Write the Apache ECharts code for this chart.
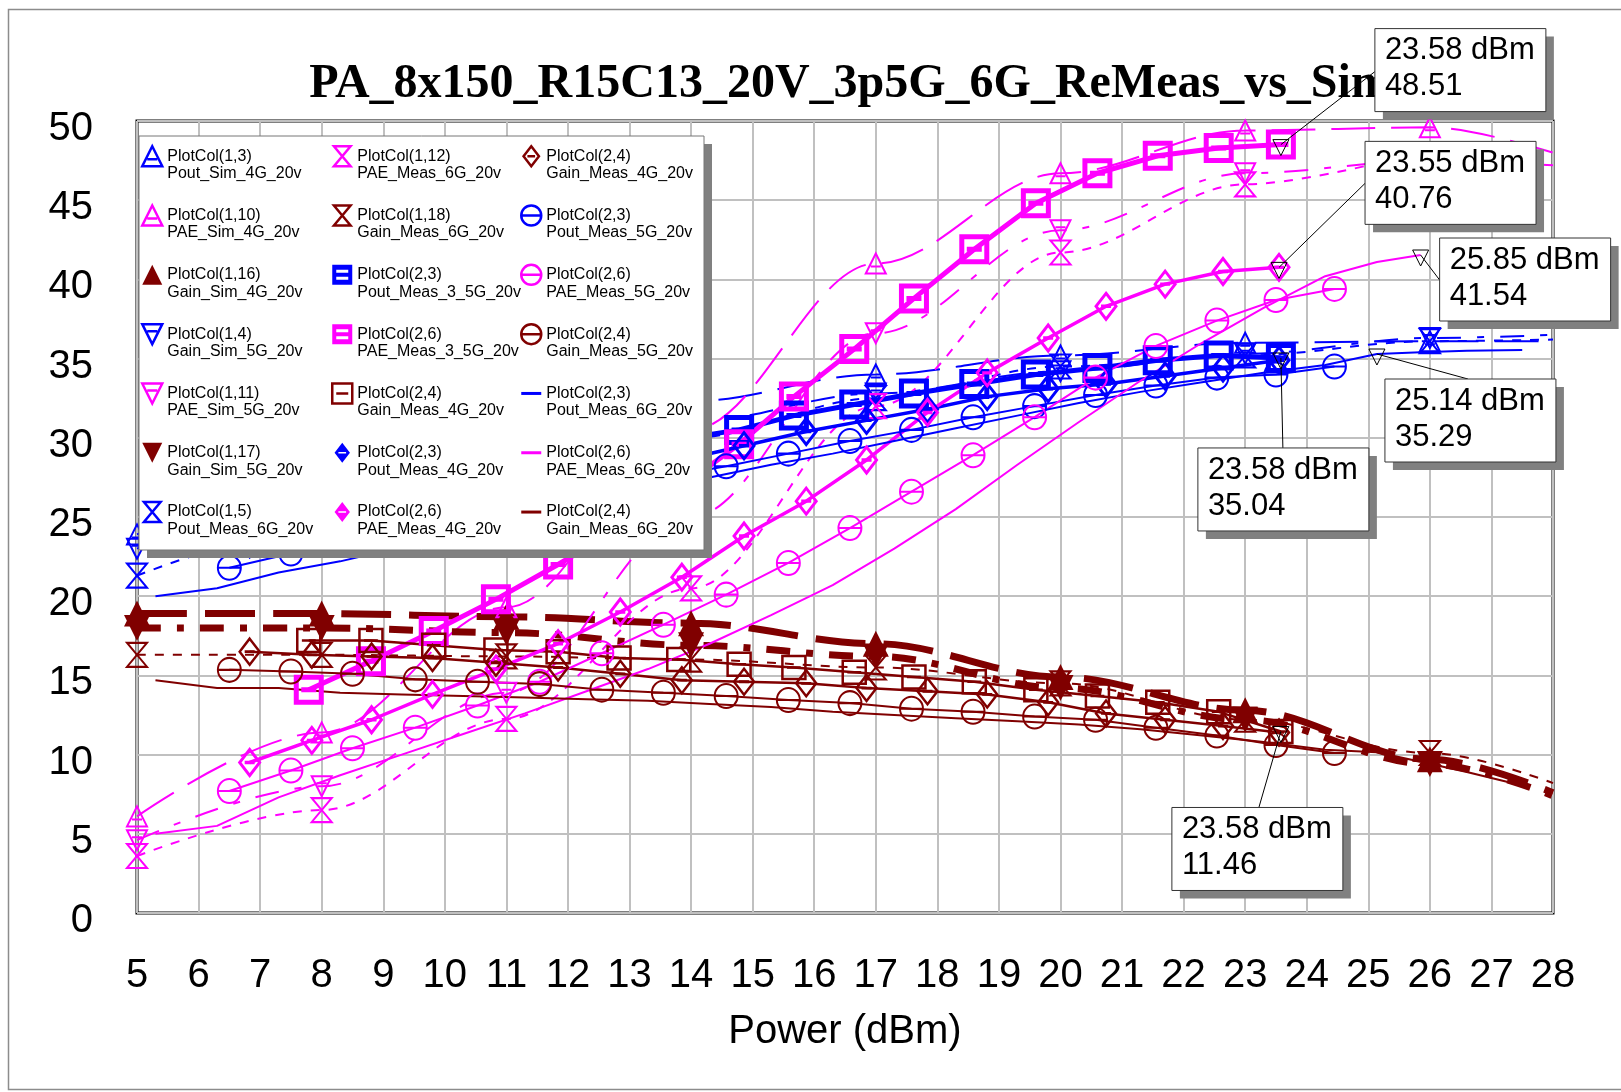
<!DOCTYPE html>
<html>
<head>
<meta charset="utf-8">
<script src="https://cdn.jsdelivr.net/npm/echarts@6/dist/echarts.min.js"></script>
<style>
  html, body { margin: 0; padding: 0; background: #fff; }
  #chart { width: 1621px; height: 1092px; }
</style>
</head>
<body>
<div id="chart"></div>
<script>
// ---------- data ----------
const chartTitle = 'PA_8x150_R15C13_20V_3p5G_6G_ReMeas_vs_Sim';
const xAxisName = 'Power (dBm)';

// simulation sweeps and first 6 GHz measurement (points every 3 dB)
const simX        = [5, 8, 11, 14, 17, 20, 23, 26, 28];
const poutSim4G   = [23.9, 26.9, 29.7, 32.3, 34.0, 35.2, 36.0, 36.1, 36.1];
const paeSim4G    = [6.1, 11.4, 19.3, 30.5, 41.0, 46.7, 49.4, 49.6, 48.0];
const gainSim4G   = [18.9, 18.9, 18.7, 18.3, 17.0, 14.9, 12.8, 9.7, 7.6];
const poutSim5G   = [23.0, 26.0, 28.7, 31.0, 32.8, 34.2, 35.3, 36.3, 36.5];
const paeSim5G    = [4.6, 8.0, 13.9, 25.0, 36.6, 43.1, 46.7, 47.5, 47.2];
const gainSim5G   = [18.0, 18.0, 17.7, 16.9, 16.2, 14.2, 12.2, 9.4, 7.4];
const poutMeas6Hg = [21.3, 24.3, 27.2, 30.0, 32.5, 34.5, 35.2, 36.1, 36.2];
const gainMeas6Hg = [16.3, 16.3, 16.2, 16.0, 15.5, 14.5, 12.2, 10.1, 8.2];
const paeMeas6HgX = [5, 8, 11, 14, 17, 20, 23, 25];
const paeMeas6Hg  = [3.6, 6.5, 12.25, 20.5, 32.0, 41.7, 46.0, 47.2];

// 3.5 GHz re-measurement
const x35    = [7.79, 8.80, 9.82, 10.83, 11.84, 12.83, 13.80, 14.78, 15.67, 16.65, 17.62, 18.60, 19.60, 20.60, 21.58, 22.57, 23.58];
const pae35  = [14.1, 15.9, 17.8, 19.8, 22.0, 24.3, 26.8, 29.6, 32.6, 35.6, 38.8, 41.9, 44.8, 46.7, 47.8, 48.3, 48.51];
const pout35 = [25.0, 26.0, 26.8, 27.5, 28.4, 29.0, 29.9, 30.5, 31.4, 32.1, 32.8, 33.4, 34.0, 34.4, 34.9, 35.2, 35.04];
const gain35 = [17.2, 17.2, 16.9, 16.6, 16.5, 16.1, 16.0, 15.7, 15.5, 15.2, 14.9, 14.6, 14.1, 13.7, 13.3, 12.7, 11.46];

// 4 GHz measurement
const x4    = [6.83, 7.84, 8.81, 9.80, 10.83, 11.84, 12.85, 13.85, 14.86, 15.87, 16.85, 17.84, 18.81, 19.80, 20.74, 21.70, 22.64, 23.55];
const pae4  = [9.5, 10.9, 12.2, 13.8, 15.4, 17.0, 19.0, 21.2, 23.8, 26.0, 28.6, 31.6, 34.1, 36.3, 38.3, 39.7, 40.5, 40.76];
const pout4 = [23.3, 24.1, 25.0, 25.9, 26.6, 27.3, 28.0, 28.6, 29.5, 30.4, 31.1, 31.8, 32.6, 33.1, 33.4, 33.9, 34.4, 34.9];
const gain4 = [16.5, 16.3, 16.2, 16.1, 15.8, 15.5, 15.1, 14.7, 14.6, 14.5, 14.2, 14.0, 13.8, 13.3, 12.6, 12.2, 11.8, 11.4];

// 5 GHz measurement
const x5    = [6.50, 7.50, 8.50, 9.52, 10.53, 11.54, 12.55, 13.55, 14.57, 15.58, 16.58, 17.58, 18.58, 19.58, 20.57, 21.55, 22.54, 23.50, 24.45];
const pae5  = [7.7, 9.0, 10.4, 11.7, 13.1, 14.6, 16.4, 18.2, 20.1, 22.1, 24.3, 26.6, 28.9, 31.3, 33.8, 35.8, 37.4, 38.7, 39.4];
const pout5 = [21.8, 22.7, 23.6, 24.3, 25.1, 26.0, 26.7, 27.5, 28.2, 29.0, 29.8, 30.5, 31.3, 32.0, 32.7, 33.3, 33.8, 34.0, 34.5];
const gain5 = [15.35, 15.25, 15.1, 14.75, 14.6, 14.45, 14.1, 13.9, 13.7, 13.45, 13.25, 12.9, 12.7, 12.4, 12.2, 11.7, 11.2, 10.6, 10.1];

// 6 GHz measurement (second sweep, no markers)
const x6    = [5.30, 6.30, 7.30, 8.30, 9.30, 10.30, 11.30, 12.30, 13.30, 14.30, 15.30, 16.30, 17.30, 18.30, 19.30, 20.30, 21.30, 22.30, 23.30, 24.30, 25.14, 25.85, 26.60, 27.50];
const pout6 = [20.0, 20.5, 21.5, 22.2, 23.1, 24.0, 24.9, 25.8, 26.7, 27.5, 28.3, 29.0, 29.8, 30.6, 31.4, 32.2, 32.9, 33.5, 34.1, 34.6, 35.29, 35.4, 35.5, 35.55];
const gain6 = [14.7, 14.2, 14.2, 13.9, 13.8, 13.7, 13.6, 13.5, 13.4, 13.2, 13.0, 12.7, 12.5, 12.3, 12.1, 11.9, 11.6, 11.2, 10.8, 10.3, 10.15, 9.55, 8.9, 8.05];
const pae6  = [5.0, 5.5, 7.3, 8.7, 10.0, 11.3, 12.6, 14.0, 15.4, 17.0, 18.8, 20.7, 23.0, 25.5, 28.3, 31.0, 33.6, 36.0, 38.2, 40.2, 41.1, 41.54];

// ---------- styling ----------
const BLUE = '#0000ff', MAG = '#ff00ff', RED = '#800000';
const FONT = '"Liberation Sans", Arial, sans-serif';

const SYM = {
  triUp:      'path://M10,0L20,20L0,20Z M5,13L15,13',
  triDn:      'path://M0,0L20,0L10,20Z M5,7L15,7',
  triUpFill:  'path://M10,0L20,20L0,20Z',
  triDnFill:  'path://M0,0L20,0L10,20Z',
  hourglass:  'path://M0,0L20,0L0,24L20,24Z',
  diamond:    'path://M10,0L20,13L10,26L0,13Z M5,13L15,13',
  diamondKey: 'path://M10,0L20,13L10,26L0,13Z M5,12V14H15V12Z',
  circle:     'path://M0,10A10,10,0,1,1,20,10A10,10,0,1,1,0,10Z M0,10L20,10',
  square:     'path://M0,0L20,0L20,20L0,20Z M4,10L16,10',
  squareKey:  'path://M0,0H20V20H0Z M4,5V8H16V5Z M4,12V15H16V12Z',
  dash:       'path://M0,0L20,0L20,3L0,3Z'
};

const LONG = [44, 16], DASHDOT = [24, 16, 7, 16], SHORT = [9, 9];

function defSim(l1, l2, color, xs, ys, sym, lastMark, dash, extra) {
  return Object.assign({ l1, l2, color, xs, ys, sym, size: [20, 20], lw: 2, bw: 2, dash, smooth: true, lastMark }, extra || {});
}

const defs = [
  // column 1
  defSim('PlotCol(1,3)',  'Pout_Sim_4G_20v',  BLUE, simX, poutSim4G, SYM.triUp, 26, LONG),
  defSim('PlotCol(1,10)', 'PAE_Sim_4G_20v',   MAG,  simX, paeSim4G,  SYM.triUp, 26, LONG),
  defSim('PlotCol(1,16)', 'Gain_Sim_4G_20v',  RED,  simX, gainSim4G, SYM.triUpFill, 26, [50, 18], { size: [26, 26], lw: 7, bw: 0, fill: RED, keyFill: RED }),
  defSim('PlotCol(1,4)',  'Gain_Sim_5G_20v',  BLUE, simX, poutSim5G, SYM.triDn, 26, DASHDOT),
  defSim('PlotCol(1,11)', 'PAE_Sim_5G_20v',   MAG,  simX, paeSim5G,  SYM.triDn, 23, DASHDOT),
  defSim('PlotCol(1,17)', 'Gain_Sim_5G_20v',  RED,  simX, gainSim5G, SYM.triDnFill, 26, DASHDOT, { size: [26, 26], lw: 7, bw: 0, fill: RED, keyFill: RED }),
  defSim('PlotCol(1,5)',  'Pout_Meas_6G_20v', BLUE, simX, poutMeas6Hg, SYM.hourglass, 26, SHORT, { size: [20, 24] }),
  // column 2
  defSim('PlotCol(1,12)', 'PAE_Meas_6G_20v',  MAG,  paeMeas6HgX, paeMeas6Hg, SYM.hourglass, 23, SHORT, { size: [20, 24] }),
  defSim('PlotCol(1,18)', 'Gain_Meas_6G_20v', RED,  simX, gainMeas6Hg, SYM.hourglass, 26, SHORT, { size: [20, 24] }),
  { l1: 'PlotCol(2,3)', l2: 'Pout_Meas_3_5G_20v', color: BLUE, xs: x35, ys: pout35, sym: SYM.square, size: [25, 25], lw: 5, bw: 5, key: SYM.squareKey, keyFill: BLUE },
  { l1: 'PlotCol(2,6)', l2: 'PAE_Meas_3_5G_20v',  color: MAG,  xs: x35, ys: pae35,  sym: SYM.square, size: [25, 25], lw: 5, bw: 5, key: SYM.squareKey, keyFill: MAG },
  { l1: 'PlotCol(2,4)', l2: 'Gain_Meas_4G_20v',   color: RED,  xs: x35, ys: gain35, sym: SYM.square, size: [23, 23], lw: 2.5, bw: 2.5 },
  { l1: 'PlotCol(2,3)', l2: 'Pout_Meas_4G_20v',   color: BLUE, xs: x4, ys: pout4, sym: SYM.diamond, size: [20, 26], lw: 3.5, bw: 3, key: SYM.diamondKey, keyFill: BLUE },
  { l1: 'PlotCol(2,6)', l2: 'PAE_Meas_4G_20v',    color: MAG,  xs: x4, ys: pae4,  sym: SYM.diamond, size: [20, 26], lw: 3.5, bw: 3, key: SYM.diamondKey, keyFill: MAG },
  // column 3
  { l1: 'PlotCol(2,4)', l2: 'Gain_Meas_4G_20v',   color: RED,  xs: x4, ys: gain4, sym: SYM.diamond, size: [20, 26], lw: 2.5, bw: 2.5 },
  { l1: 'PlotCol(2,3)', l2: 'Pout_Meas_5G_20v',   color: BLUE, xs: x5, ys: pout5, sym: SYM.circle, size: [23, 24], lw: 2, bw: 2 },
  { l1: 'PlotCol(2,6)', l2: 'PAE_Meas_5G_20v',    color: MAG,  xs: x5, ys: pae5,  sym: SYM.circle, size: [23, 24], lw: 2, bw: 2 },
  { l1: 'PlotCol(2,4)', l2: 'Gain_Meas_5G_20v',   color: RED,  xs: x5, ys: gain5, sym: SYM.circle, size: [23, 24], lw: 2, bw: 2 },
  { l1: 'PlotCol(2,3)', l2: 'Pout_Meas_6G_20v',   color: BLUE, xs: x6, ys: pout6, sym: 'none', lw: 2, bw: 0, key: SYM.dash, keyFill: BLUE },
  { l1: 'PlotCol(2,6)', l2: 'PAE_Meas_6G_20v',    color: MAG,  xs: x6, ys: pae6,  sym: 'none', lw: 2, bw: 0, key: SYM.dash, keyFill: MAG },
  { l1: 'PlotCol(2,4)', l2: 'Gain_Meas_6G_20v',   color: RED,  xs: x6, ys: gain6, sym: 'none', lw: 2, bw: 0, key: SYM.dash, keyFill: RED }
];
defs.forEach((d, i) => { d.id = 'trace' + (i + 1); });
// legend text: a leading empty line keeps the first text line level with the key symbol
const labelOf = {};
defs.forEach(d => { labelOf[d.id] = '\n' + d.l1 + '\n' + d.l2; });

const series = defs.map(d => ({
  name: d.id,
  type: 'line',
  z: 2,
  data: d.ys.map((y, i) => [d.xs[i], y]),
  symbol: d.sym === 'none' ? 'none'
    : (d.lastMark ? (v => (v[0] <= d.lastMark ? d.sym : 'none')) : d.sym),
  symbolSize: d.size,
  showAllSymbol: true,
  smooth: d.smooth ? 0.35 : false,
  smoothMonotone: d.smooth ? 'x' : undefined,
  lineStyle: { color: d.color, width: d.lw, type: d.dash || 'solid', cap: 'butt' },
  itemStyle: { color: d.fill || 'rgba(0,0,0,0)', borderColor: d.color, borderWidth: d.bw },
  emphasis: { disabled: true },
  animation: false
}));

const legendCols = [defs.slice(0, 7), defs.slice(7, 14), defs.slice(14, 21)];
const legendLeft = [141, 331, 520];
const legends = legendCols.map((col, ci) => ({
  orient: 'vertical',
  left: legendLeft[ci],
  top: 130,
  padding: 0,
  itemGap: 6.8,
  itemWidth: 20,
  itemHeight: 20,
  z: 5,
  selectedMode: false,
  formatter: name => labelOf[name],
  textStyle: { fontFamily: FONT, fontSize: 16, lineHeight: 17.5, color: '#000' },
  data: col.map(d => ({
    name: d.id,
    icon: d.key || d.sym,
    itemStyle: d.keyFill
      ? { color: d.keyFill, borderWidth: 0 }
      : { color: 'rgba(0,0,0,0)', borderColor: d.color, borderWidth: 2.5 }
  }))
}));

const chart = echarts.init(document.getElementById('chart'), null, { renderer: 'canvas' });

chart.setOption({
  animation: false,
  backgroundColor: '#fff',
  title: {
    text: chartTitle,
    left: 845,
    textAlign: 'center',
    top: 56,
    z: 1,
    textStyle: { fontFamily: '"Liberation Serif", "Times New Roman", serif', fontWeight: 'bold', fontSize: 48, color: '#000' }
  },
  grid: { left: 137, right: 68, top: 121, bottom: 179, show: true, borderColor: '#000', borderWidth: 3, backgroundColor: 'transparent' },
  xAxis: {
    type: 'value', min: 5, max: 28, interval: 1,
    axisLine: { show: false }, axisTick: { show: false },
    splitLine: { show: true, lineStyle: { color: '#c0c0c0', width: 2 } },
    axisLabel: { fontFamily: FONT, fontSize: 40, color: '#000', margin: 43 },
    name: xAxisName, nameLocation: 'middle', nameGap: 99,
    nameTextStyle: { fontFamily: FONT, fontSize: 40, color: '#000' }
  },
  yAxis: {
    type: 'value', min: 0, max: 50, interval: 5,
    axisLine: { show: false }, axisTick: { show: false },
    splitLine: { show: true, lineStyle: { color: '#c0c0c0', width: 2 } },
    axisLabel: { fontFamily: FONT, fontSize: 40, color: '#000', margin: 44, verticalAlign: 'top', lineHeight: 16 }
  },
  legend: legends,
  series: series
});

// ---------- frame, legend panel, marker readouts ----------
const readouts = [
  { x: x35[16], y: pae35[16],  box: [94, -116], lead: [94, -73] },
  { x: x4[17],  y: pae4[17],   box: [86, -126], lead: [86, -84] },
  { x: x6[21],  y: pae6[21],   box: [19, -17],  lead: [19, 25] },
  { x: x6[20],  y: pout6[20],  box: [8, 25],    lead: [91, 25] },
  { x: x35[16], y: pout35[16], box: [-83, 90],  lead: [2, 90] },
  { x: x35[16], y: gain35[16], box: [-109, 76], lead: [-22, 76] }
];
const BOX_W = 171, BOX_H = 83;

const graphics = [
  { type: 'rect', shape: { x: 8.5, y: 9.5, width: 1700, height: 1080 }, style: { fill: 'none', stroke: '#8c8c8c', lineWidth: 1.5 }, z: 0, silent: true },
  { type: 'rect', shape: { x: 147, y: 144, width: 565, height: 414 }, style: { fill: '#808080' }, z: 4, silent: true },
  { type: 'rect', shape: { x: 139, y: 136, width: 565, height: 414 }, style: { fill: '#fff', stroke: '#777', lineWidth: 1 }, z: 4, silent: true }
];

readouts.forEach(r => {
  const [px, py] = chart.convertToPixel({ gridIndex: 0 }, [r.x, r.y]);
  const bx = px + r.box[0], by = py + r.box[1];
  graphics.push(
    { type: 'line', shape: { x1: px, y1: py, x2: px + r.lead[0], y2: py + r.lead[1] }, style: { stroke: '#000', lineWidth: 1 }, z: 20, silent: true },
    { type: 'polygon', shape: { points: [[px - 8, py - 5], [px + 8, py - 5], [px, py + 11]] }, style: { fill: 'none', stroke: '#000', lineWidth: 1 }, z: 21, silent: true },
    { type: 'rect', shape: { x: bx + 8, y: by + 8, width: BOX_W, height: BOX_H }, style: { fill: '#808080' }, z: 22, silent: true },
    { type: 'rect', shape: { x: bx, y: by, width: BOX_W, height: BOX_H }, style: { fill: '#fff', stroke: '#333', lineWidth: 1 }, z: 23, silent: true },
    { type: 'text', x: bx + 10, y: by + 4, style: { text: r.x.toFixed(2) + ' dBm\n' + r.y.toFixed(2), fontFamily: FONT, fontSize: 31, lineHeight: 36, fill: '#000', verticalAlign: 'top' }, z: 24, silent: true }
  );
});

chart.setOption({ graphic: graphics });
</script>
</body>
</html>
